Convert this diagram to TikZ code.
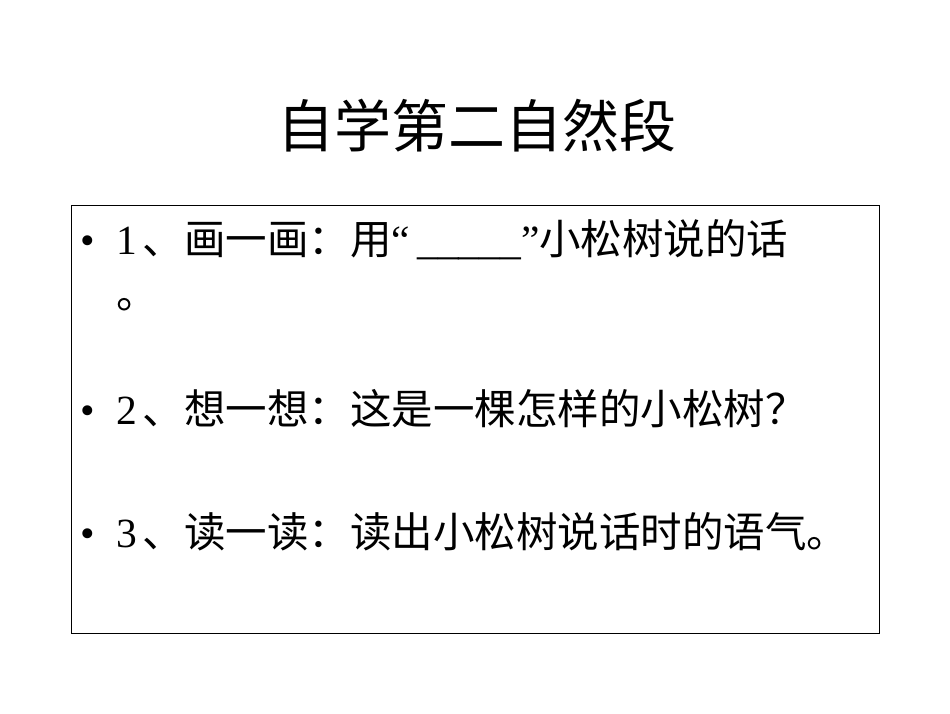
\documentclass[tikz,border=0pt]{standalone}
\usepackage{fontspec}
\setmainfont{Liberation Serif}
\newfontfamily\cjk{Noto Sans CJK SC}
\begin{document}
\begin{tikzpicture}[x=1pt,y=-1pt,
  line/.style={anchor=base west,inner sep=0pt,font=\fontsize{41.5}{44}\selectfont}]
\useasboundingbox (0,0) rectangle (950,713);
\node[anchor=base,inner sep=0pt,font=\fontsize{57}{60}\cjk\selectfont] (title) at (477,147) {自学第二自然段};
\draw[line width=0.8pt] (71,205) rectangle (879,633);
\node[line] (b1) at (80,254) {•};
\node[line] (l1) at (116,254) {1\hspace{6pt}{\cjk、画一画：用}“\,\_\_\_\_\_”{\cjk 小松树说的话}};
\node[line] (l1b) at (116,308) {\cjk 。};
\node[line] (b2) at (80,424) {•};
\node[line] (l2) at (116,424) {2\hspace{6pt}{\cjk、想一想：这是一棵怎样的小松树？}};
\node[line] (b3) at (80,547) {•};
\node[line] (l3) at (116,547) {3\hspace{6pt}{\cjk、读一读：读出小松树说话时的语气。}};
\end{tikzpicture}
\end{document}
